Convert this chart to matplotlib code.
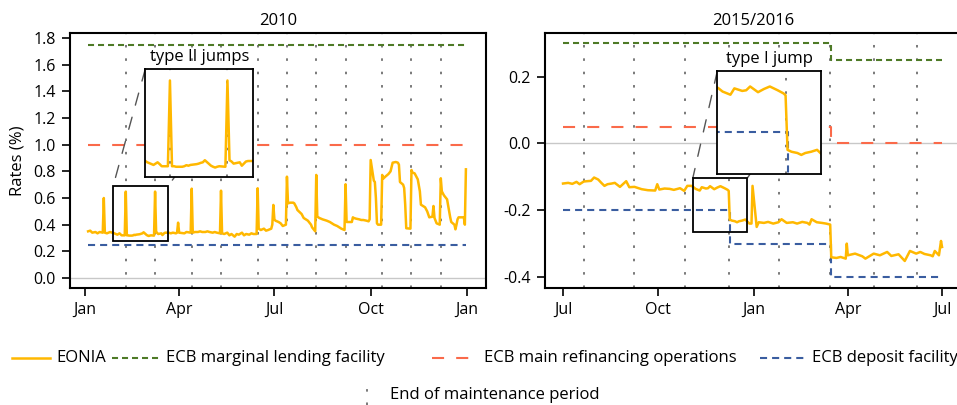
import matplotlib
matplotlib.use("Agg")
import matplotlib.dates as mdates
import matplotlib.pyplot as plt
import pandas as pd
from matplotlib.lines import Line2D
from matplotlib.patches import ConnectionPatch, Rectangle

# ---------------- data ----------------
eonia10_dates = [
    "2010-01-04", "2010-01-06", "2010-01-08", "2010-01-11", "2010-01-13", "2010-01-15", "2010-01-18",
    "2010-01-19", "2010-01-20", "2010-01-22", "2010-01-25", "2010-01-27", "2010-01-28", "2010-01-29",
    "2010-02-01", "2010-02-02", "2010-02-03", "2010-02-04", "2010-02-05", "2010-02-08", "2010-02-09",
    "2010-02-10", "2010-02-11", "2010-02-12", "2010-02-15", "2010-02-16", "2010-02-17", "2010-02-18",
    "2010-02-19", "2010-02-22", "2010-02-23", "2010-02-24", "2010-02-25", "2010-02-26", "2010-03-01",
    "2010-03-02", "2010-03-03", "2010-03-04", "2010-03-05", "2010-03-08", "2010-03-09", "2010-03-10",
    "2010-03-11", "2010-03-12", "2010-03-15", "2010-03-16", "2010-03-17", "2010-03-18", "2010-03-19",
    "2010-03-22", "2010-03-24", "2010-03-26", "2010-03-29", "2010-03-30", "2010-03-31", "2010-04-01",
    "2010-04-06", "2010-04-08", "2010-04-12", "2010-04-13", "2010-04-14", "2010-04-16", "2010-04-19",
    "2010-04-21", "2010-04-23", "2010-04-26", "2010-04-28", "2010-04-30", "2010-05-03", "2010-05-05",
    "2010-05-07", "2010-05-10", "2010-05-11", "2010-05-12", "2010-05-14", "2010-05-17", "2010-05-19",
    "2010-05-21", "2010-05-24", "2010-05-26", "2010-05-28", "2010-05-31", "2010-06-02", "2010-06-04",
    "2010-06-07", "2010-06-09", "2010-06-11", "2010-06-14", "2010-06-15", "2010-06-16", "2010-06-17",
    "2010-06-18", "2010-06-21", "2010-06-23", "2010-06-25", "2010-06-28", "2010-06-29", "2010-06-30",
    "2010-07-01", "2010-07-02", "2010-07-05", "2010-07-07", "2010-07-09", "2010-07-12", "2010-07-13",
    "2010-07-14", "2010-07-16", "2010-07-19", "2010-07-20", "2010-07-22", "2010-07-23", "2010-07-27",
    "2010-07-29", "2010-08-02", "2010-08-04", "2010-08-05", "2010-08-06", "2010-08-09", "2010-08-10",
    "2010-08-11", "2010-08-13", "2010-08-16", "2010-08-18", "2010-08-20", "2010-08-23", "2010-08-25",
    "2010-08-27", "2010-08-30", "2010-09-01", "2010-09-03", "2010-09-06", "2010-09-07", "2010-09-08",
    "2010-09-10", "2010-09-13", "2010-09-14", "2010-09-15", "2010-09-17", "2010-09-20", "2010-09-22",
    "2010-09-24", "2010-09-27", "2010-09-29", "2010-09-30", "2010-10-01", "2010-10-04", "2010-10-05",
    "2010-10-06", "2010-10-07", "2010-10-08", "2010-10-11", "2010-10-12", "2010-10-13", "2010-10-15",
    "2010-10-18", "2010-10-20", "2010-10-22", "2010-10-25", "2010-10-27", "2010-10-28", "2010-10-29",
    "2010-11-01", "2010-11-02", "2010-11-03", "2010-11-04", "2010-11-08", "2010-11-09", "2010-11-10",
    "2010-11-12", "2010-11-15", "2010-11-17", "2010-11-18", "2010-11-19", "2010-11-22", "2010-11-24",
    "2010-11-26", "2010-11-29", "2010-11-30", "2010-12-01", "2010-12-02", "2010-12-03", "2010-12-06",
    "2010-12-07", "2010-12-08", "2010-12-10", "2010-12-13", "2010-12-15", "2010-12-16", "2010-12-17",
    "2010-12-20", "2010-12-21", "2010-12-22", "2010-12-23", "2010-12-24", "2010-12-27", "2010-12-29",
    "2010-12-30", "2010-12-31",
]
eonia10_vals = [
    0.350, 0.355, 0.340, 0.345, 0.335, 0.345, 0.340,
    0.600, 0.340, 0.335, 0.345, 0.340, 0.340, 0.335,
    0.325, 0.330, 0.335, 0.328, 0.320, 0.320, 0.648,
    0.320, 0.320, 0.318, 0.318, 0.320, 0.324, 0.322,
    0.325, 0.328, 0.330, 0.333, 0.335, 0.343, 0.322,
    0.318, 0.315, 0.318, 0.320, 0.318, 0.648, 0.343,
    0.338, 0.330, 0.335, 0.322, 0.330, 0.338, 0.340,
    0.340, 0.335, 0.340, 0.335, 0.340, 0.415, 0.340,
    0.335, 0.345, 0.340, 0.670, 0.340, 0.345, 0.345,
    0.350, 0.345, 0.345, 0.350, 0.345, 0.340, 0.345,
    0.340, 0.335, 0.655, 0.335, 0.330, 0.340, 0.320,
    0.330, 0.310, 0.330, 0.325, 0.340, 0.320, 0.330,
    0.325, 0.335, 0.330, 0.330, 0.673, 0.370, 0.365,
    0.360, 0.370, 0.355, 0.360, 0.370, 0.400, 0.548,
    0.440, 0.430, 0.420, 0.410, 0.390, 0.400, 0.760,
    0.560, 0.565, 0.565, 0.560, 0.530, 0.510, 0.480,
    0.450, 0.430, 0.410, 0.400, 0.380, 0.350, 0.773,
    0.460, 0.450, 0.440, 0.435, 0.430, 0.420, 0.410,
    0.400, 0.390, 0.380, 0.370, 0.360, 0.703, 0.420,
    0.420, 0.420, 0.455, 0.450, 0.445, 0.440, 0.435,
    0.435, 0.430, 0.425, 0.440, 0.885, 0.730, 0.720,
    0.600, 0.410, 0.400, 0.400, 0.773, 0.745, 0.760,
    0.780, 0.800, 0.865, 0.870, 0.865, 0.850, 0.720,
    0.700, 0.675, 0.550, 0.373, 0.370, 0.810, 0.790,
    0.785, 0.740, 0.650, 0.550, 0.545, 0.530, 0.500,
    0.455, 0.460, 0.540, 0.450, 0.430, 0.410, 0.400,
    0.748, 0.650, 0.620, 0.590, 0.500, 0.455, 0.420,
    0.400, 0.365, 0.400, 0.440, 0.455, 0.455, 0.455,
    0.400, 0.815,
]

eonia16_dates = [
    "2015-07-01", "2015-07-06", "2015-07-10", "2015-07-14", "2015-07-17", "2015-07-21", "2015-07-24",
    "2015-07-28", "2015-07-31", "2015-08-04", "2015-08-07", "2015-08-10", "2015-08-13", "2015-08-17",
    "2015-08-20", "2015-08-25", "2015-08-31", "2015-09-03", "2015-09-08", "2015-09-15", "2015-09-21",
    "2015-09-28", "2015-09-30", "2015-10-02", "2015-10-07", "2015-10-12", "2015-10-16", "2015-10-22",
    "2015-10-26", "2015-10-29", "2015-11-02", "2015-11-04", "2015-11-06", "2015-11-10", "2015-11-12",
    "2015-11-16", "2015-11-18", "2015-11-20", "2015-11-24", "2015-11-27", "2015-11-30", "2015-12-02",
    "2015-12-04", "2015-12-07", "2015-12-08", "2015-12-09", "2015-12-11", "2015-12-14", "2015-12-16",
    "2015-12-18", "2015-12-21", "2015-12-23", "2015-12-24", "2015-12-28", "2015-12-30", "2015-12-31",
    "2016-01-04", "2016-01-06", "2016-01-11", "2016-01-15", "2016-01-20", "2016-01-25", "2016-01-28",
    "2016-02-02", "2016-02-08", "2016-02-12", "2016-02-17", "2016-02-22", "2016-02-24", "2016-02-26",
    "2016-03-02", "2016-03-07", "2016-03-11", "2016-03-15", "2016-03-16", "2016-03-21", "2016-03-25",
    "2016-03-30", "2016-03-31", "2016-04-01", "2016-04-08", "2016-04-15", "2016-04-18", "2016-04-26",
    "2016-05-02", "2016-05-09", "2016-05-13", "2016-05-20", "2016-05-26", "2016-05-31", "2016-06-06",
    "2016-06-10", "2016-06-14", "2016-06-20", "2016-06-22", "2016-06-24", "2016-06-28", "2016-06-30",
    "2016-07-01",
]
eonia16_vals = [
    -0.120, -0.118, -0.121, -0.115, -0.122, -0.114, -0.113,
    -0.112, -0.102, -0.108, -0.118, -0.127, -0.122, -0.120,
    -0.118, -0.130, -0.113, -0.131, -0.130, -0.137, -0.140,
    -0.141, -0.122, -0.138, -0.135, -0.136, -0.139, -0.134,
    -0.142, -0.127, -0.127, -0.131, -0.136, -0.141, -0.131,
    -0.135, -0.134, -0.128, -0.137, -0.132, -0.128, -0.131,
    -0.134, -0.139, -0.142, -0.228, -0.231, -0.233, -0.236,
    -0.233, -0.231, -0.229, -0.228, -0.240, -0.240, -0.127,
    -0.250, -0.236, -0.238, -0.235, -0.240, -0.236, -0.227,
    -0.238, -0.236, -0.240, -0.235, -0.238, -0.243, -0.227,
    -0.236, -0.238, -0.240, -0.243, -0.341, -0.343, -0.340,
    -0.345, -0.300, -0.335, -0.330, -0.338, -0.345, -0.330,
    -0.335, -0.325, -0.337, -0.332, -0.352, -0.322, -0.330,
    -0.325, -0.331, -0.335, -0.338, -0.322, -0.335, -0.292,
    -0.310,
]

# ECB policy rates (change dates, value in force from that date)
lend10_dates = ["2010-01-04", "2010-12-31"]
lend10_vals = [1.75, 1.75]
mro10_dates = ["2010-01-04", "2010-12-31"]
mro10_vals = [1.00, 1.00]
dep10_dates = ["2010-01-04", "2010-12-31"]
dep10_vals = [0.25, 0.25]

lend16_dates = ["2015-07-01", "2016-03-16", "2016-07-01"]
lend16_vals = [0.30, 0.25, 0.25]
mro16_dates = ["2015-07-01", "2016-03-16", "2016-07-01"]
mro16_vals = [0.05, 0.00, 0.00]
dep16_dates = ["2015-07-01", "2015-12-09", "2016-03-16", "2016-07-01"]
dep16_vals = [-0.20, -0.30, -0.40, -0.40]

# end of reserve maintenance periods
mp_end10 = ["2010-02-09", "2010-03-09", "2010-04-13", "2010-05-11", "2010-06-15", "2010-07-13",
            "2010-08-10", "2010-09-07", "2010-10-12", "2010-11-09", "2010-12-07"]
mp_end16 = ["2015-07-21", "2015-09-08", "2015-10-27", "2015-12-08", "2016-01-26", "2016-03-15",
            "2016-04-26", "2016-06-07"]

# zoom windows of the insets: (start, end, low, high)
zoom10 = ("2010-01-28 00:00", "2010-03-21 14:00", 0.280, 0.692)
zoom16 = ("2015-11-03 08:00", "2015-12-26 00:00", -0.2666, -0.1036)

legend_labels = ["EONIA", "ECB marginal lending facility", "ECB main refinancing operations",
                 "ECB deposit facility"]
mp_label = "End of maintenance period"

# ---------------- style ----------------
C_EONIA = "#FFB800"
C_LEND = "#4E7A27"
C_MRO = "#FA6A4A"
C_DEP = "#3A5DA0"
C_MP = "#6e6e6e"
LS_LEND = (0, (2.9, 1.9))
LS_MRO = (0, (5.8, 5.8))
LS_DEP = (0, (3.4, 2.4))
LS_MP = (0, (1.4, 6.0))
LW_EONIA = 1.8

plt.rcParams.update({
    "font.family": ["Open Sans", "DejaVu Sans"],
    "font.size": 11,
    "axes.unicode_minus": False,
})


def dn(s):
    return mdates.date2num(pd.Timestamp(s))


def draw_series(ax, eonia, lend, mro, dep, mp_ends):
    ax.axhline(0, color="#c8c8c8", lw=1.0, zorder=1)
    for d in mp_ends:
        ax.axvline(pd.Timestamp(d), color=C_MP, lw=1.3, ls=LS_MP, zorder=1.5)
    ax.plot(pd.to_datetime(lend[0]), lend[1], color=C_LEND, lw=1.5, ls=LS_LEND, drawstyle="steps-post", zorder=2)
    ax.plot(pd.to_datetime(mro[0]), mro[1], color=C_MRO, lw=1.5, ls=LS_MRO, drawstyle="steps-post", zorder=2)
    ax.plot(pd.to_datetime(dep[0]), dep[1], color=C_DEP, lw=1.5, ls=LS_DEP, drawstyle="steps-post", zorder=2)
    ax.plot(pd.to_datetime(eonia[0]), eonia[1], color=C_EONIA, lw=LW_EONIA, zorder=2.5)


def add_zoom(ax, bounds, window, series, label):
    x0, x1, y0, y1 = dn(window[0]), dn(window[1]), window[2], window[3]
    ins = ax.inset_axes(bounds)
    draw_series(ins, *series)
    ins.set_xlim(x0, x1)
    ins.set_ylim(y0, y1)
    ins.set_xticks([])
    ins.set_yticks([])
    ins.set_facecolor("white")
    for sp in ins.spines.values():
        sp.set_linewidth(1.3)
    ax.add_patch(Rectangle((x0, y0), x1 - x0, y1 - y0, fill=False, ec="black", lw=1.3, zorder=4))
    for cx, bx in ((0, x0), (1, x1)):
        con = ConnectionPatch(xyA=(cx, 1), coordsA=ins.transAxes, xyB=(bx, y1), coordsB=ax.transData,
                              color="#555555", lw=1.0, ls=(0, (9, 9)), zorder=3)
        ax.add_artist(con)
    ax.text(bounds[0] + bounds[2] / 2, bounds[1] + bounds[3] + 0.015, label, transform=ax.transAxes,
            ha="center", va="bottom", fontsize=12)


def style_axes(ax, ylim, yticks):
    ax.set_ylim(*ylim)
    ax.set_yticks(yticks)
    ax.yaxis.set_major_formatter(matplotlib.ticker.FormatStrFormatter("%.1f"))
    ax.xaxis.set_major_locator(mdates.MonthLocator(bymonth=[1, 4, 7, 10]))
    ax.xaxis.set_major_formatter(mdates.DateFormatter("%b"))
    ax.tick_params(direction="out", length=6, width=1.2, labelsize=11.5, pad=4)
    for sp in ax.spines.values():
        sp.set_linewidth(1.5)


W, H = 957, 405
fig = plt.figure(figsize=(W / 100, H / 100), dpi=100)
ax1 = fig.add_axes([70 / W, 1 - 288 / H, 416 / W, 255 / H])
ax2 = fig.add_axes([545 / W, 1 - 288 / H, 416 / W, 255 / H])

s10 = ((eonia10_dates, eonia10_vals), (lend10_dates, lend10_vals), (mro10_dates, mro10_vals),
       (dep10_dates, dep10_vals), mp_end10)
s16 = ((eonia16_dates, eonia16_vals), (lend16_dates, lend16_vals), (mro16_dates, mro16_vals),
       (dep16_dates, dep16_vals), mp_end16)

draw_series(ax1, *s10)
ax1.set_xlim(dn("2010-01-01") - 14.3, dn("2011-01-01") + 18.2)
style_axes(ax1, (-0.075, 1.8375), [0.0, 0.2, 0.4, 0.6, 0.8, 1.0, 1.2, 1.4, 1.6, 1.8])
ax1.set_title("2010", fontsize=12, pad=6)
ax1.set_ylabel("Rates (%)", fontsize=12, labelpad=6)
add_zoom(ax1, [0.181, 0.4365, 0.2596, 0.4224], zoom10, s10, "type II jumps")

draw_series(ax2, *s16)
ax2.set_xlim(dn("2015-07-01") - 17.4, dn("2016-07-01") + 18.3)
style_axes(ax2, (-0.433, 0.331), [-0.4, -0.2, 0.0, 0.2])
ax2.set_title("2015/2016", fontsize=12, pad=6)
add_zoom(ax2, [0.4142, 0.4459, 0.2493, 0.405], zoom16, s16, "type I jump")

# legend, laid out by hand to follow the reference's spacing (pixel positions)
key_styles = [
    dict(color=C_EONIA, lw=LW_EONIA),
    dict(color=C_LEND, lw=1.5, ls=LS_LEND),
    dict(color=C_MRO, lw=1.5, ls=LS_MRO),
    dict(color=C_DEP, lw=1.5, ls=LS_DEP),
]
key_pos = [(12, 50, 56), (112, 160, 166), (432, 472, 484), (760, 806, 812)]
ly = 1 - 358 / H
for (k0, k1, tx), style, lab in zip(key_pos, key_styles, legend_labels):
    fig.add_artist(Line2D([k0 / W, k1 / W], [ly, ly], transform=fig.transFigure, **style))
    fig.text(tx / W, ly, lab, ha="left", va="center", fontsize=12)
fig.add_artist(Line2D([367 / W, 367 / W], [0, 1 - 382 / H], transform=fig.transFigure,
                      color=C_MP, lw=1.3, ls=LS_MP))
fig.text(390 / W, 1 - 395 / H, mp_label, ha="left", va="center", fontsize=12)

fig.savefig("out.png", dpi=100)
